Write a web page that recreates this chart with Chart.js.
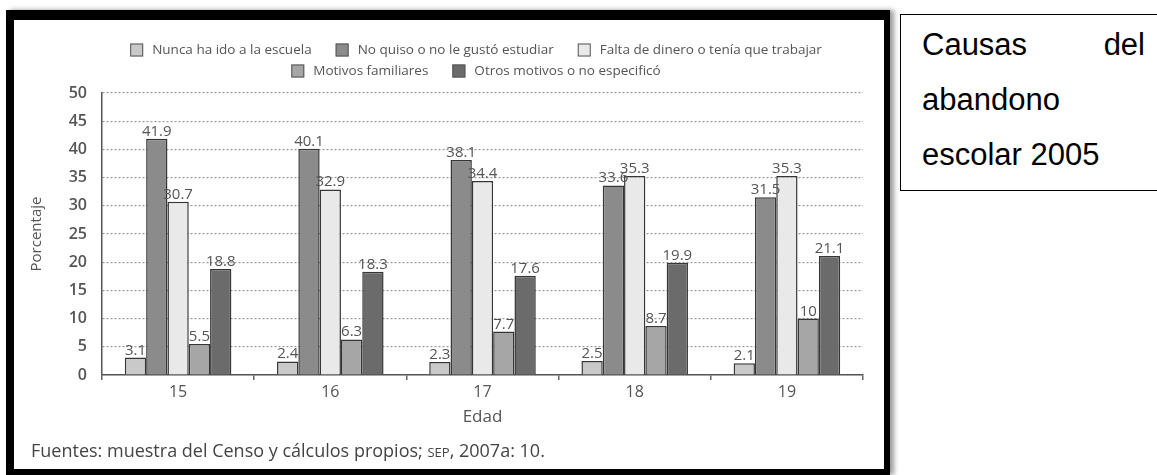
<!DOCTYPE html>
<html lang="es">
<head>
<meta charset="utf-8">
<title>Causas del abandono escolar 2005</title>
<script src="https://cdn.jsdelivr.net/npm/chart.js@4.4.1/dist/chart.umd.min.js"></script>
<style>
  html, body { margin: 0; padding: 0; background: #fff; }
  body { width: 1157px; height: 475px; position: relative; overflow: hidden; }
  #marco {
    position: absolute; left: 6px; top: 10px; width: 884px; height: 465px;
    box-sizing: border-box; border-style: solid; border-color: #000;
    border-width: 10px 6px 6px 8px; background: #fff;
    box-shadow: 4px 0 5px rgba(0, 0, 0, 0.4);
  }
  #contenedor { position: absolute; left: 14px; top: 20px; width: 870px; height: 425px; }
  #fuente {
    position: absolute; left: 31px; top: 439px; white-space: nowrap;
    font: 18px 'Open Sans', sans-serif; line-height: 22px; color: #444;
  }
  #fuente .sc { font-size: 13px; }
  #titulo {
    position: absolute; left: 900px; top: 14px; width: 262px; height: 177px;
    box-sizing: border-box; border: 1px solid #000; padding: 2px 16px 0 21px;
    font: 31px 'Liberation Sans', Arial, sans-serif; line-height: 55px;
    text-align: justify; color: #000;
  }
</style>
</head>
<body>
<div id="marco"></div>
<div id="contenedor"><canvas id="grafico"></canvas></div>
<div id="fuente">Fuentes: muestra del Censo y cálculos propios; <span class="sc">SEP</span>, 2007a: 10.</div>
<div id="titulo">Causas del abandono escolar 2005</div>

<script>
// Datos (porcentaje por edad)
const edades = ['15', '16', '17', '18', '19'];
const nuncaEscuela = [3.1, 2.4, 2.3, 2.5, 2.1];
const noQuiso = [41.9, 40.1, 38.1, 33.6, 31.5];
const faltaDinero = [30.7, 32.9, 34.4, 35.3, 35.3];
const motivosFamiliares = [5.5, 6.3, 7.7, 8.7, 10];
const otrosMotivos = [18.8, 18.3, 17.6, 19.9, 21.1];
const marcasY = [0, 5, 10, 15, 20, 25, 30, 35, 40, 45, 50];

Chart.defaults.font.family = "'Open Sans', sans-serif";

// Leyenda en dos filas (3 + 2), como en el original
const leyenda = {
    id: 'leyenda',
    afterDraw(chart) {
        const ctx = chart.ctx;
        const filas = [[0, 1, 2], [3, 4]];
        const caja = 13, hueco = 9, sep = 24;
        const centro = 462;
        ctx.save();
        ctx.font = "13.5px 'Open Sans', sans-serif";
        ctx.textBaseline = 'middle';
        filas.forEach((fila, r) => {
            const y = 30 + r * 21;
            const anchos = fila.map(i => caja + hueco + ctx.measureText(chart.data.datasets[i].label).width);
            const total = anchos.reduce((a, b) => a + b, 0) + sep * (fila.length - 1);
            let x = centro - total / 2;
            fila.forEach((i, k) => {
                const ds = chart.data.datasets[i];
                ctx.fillStyle = ds.backgroundColor;
                ctx.fillRect(x, y - caja / 2, caja, caja);
                ctx.strokeStyle = '#555';
                ctx.lineWidth = 1;
                ctx.strokeRect(x + 0.5, y - caja / 2 + 0.5, caja - 1, caja - 1);
                ctx.fillStyle = '#555';
                ctx.fillText(ds.label, x + caja + hueco, y);
                x += anchos[k] + sep;
            });
        });
        ctx.restore();
    }
};

// Valores encima de cada barra
const etiquetas = {
    id: 'etiquetas',
    afterDatasetsDraw(chart) {
        const ctx = chart.ctx;
        ctx.save();
        ctx.font = "15px 'Open Sans', sans-serif";
        ctx.fillStyle = '#555';
        ctx.textAlign = 'center';
        ctx.textBaseline = 'alphabetic';
        chart.data.datasets.forEach((ds, i) => {
            chart.getDatasetMeta(i).data.forEach((bar, j) => {
                ctx.fillText(String(ds.data[j]), bar.x, bar.y - 3);
            });
        });
        ctx.restore();
    }
};

function serie(label, data, color) {
    return {
        label: label,
        data: data,
        backgroundColor: color,
        borderColor: '#363636',
        borderWidth: 1.5,
        categoryPercentage: 0.7,
        barPercentage: 1.0
    };
}

new Chart(document.getElementById('grafico'), {
    type: 'bar',
    data: {
        labels: edades,
        datasets: [
            serie('Nunca ha ido a la escuela', nuncaEscuela, '#c9c9c9'),
            serie('No quiso o no le gustó estudiar', noQuiso, '#8b8b8b'),
            serie('Falta de dinero o tenía que trabajar', faltaDinero, '#e9e9e9'),
            serie('Motivos familiares', motivosFamiliares, '#a6a6a6'),
            serie('Otros motivos o no especificó', otrosMotivos, '#6b6b6b')
        ]
    },
    options: {
        responsive: true,
        maintainAspectRatio: false,
        animation: false,
        layout: { padding: { top: 73, right: 21, bottom: 10, left: 0 } },
        plugins: {
            legend: { display: false },
            tooltip: { enabled: false }
        },
        scales: {
            x: {
                grid: { drawOnChartArea: false, drawTicks: true, tickLength: 5, color: '#666', lineWidth: 1.5, offset: true },
                border: { display: true, color: '#555', width: 1.5 },
                ticks: { color: '#555', font: { size: 16 }, padding: 3 },
                title: { display: true, text: 'Edad', color: '#555', font: { size: 17 }, padding: { top: 0, bottom: 8 } },
                afterFit(s) { s.height = 60; }
            },
            y: {
                min: 0,
                max: 50,
                afterBuildTicks(s) { s.ticks = marcasY.map(v => ({ value: v })); },
                grid: { drawTicks: false, color: '#9a9a9a', lineWidth: 1.2 },
                border: { display: true, color: '#555', width: 1.5, dash: [2, 2] },
                ticks: { color: '#555', font: { size: 16, weight: '600' }, padding: 15 },
                title: { display: true, text: 'Porcentaje', color: '#555', font: { size: 15 }, padding: { top: 14, bottom: 0 } },
                afterFit(s) { s.width = 88; }
            }
        }
    },
    plugins: [leyenda, etiquetas]
});
</script>
</body>
</html>
